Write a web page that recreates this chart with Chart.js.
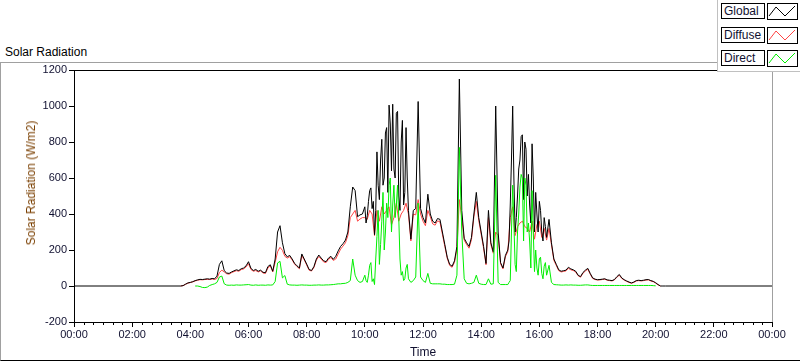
<!DOCTYPE html>
<html>
<head>
<meta charset="utf-8">
<script src="https://cdn.jsdelivr.net/npm/chart.js@4.4.1/dist/chart.umd.min.js"></script>
<style>
  body { margin: 0; background: #fff; font-family: 'Liberation Sans', Arial, sans-serif; }
  #wrap { position: relative; width: 800px; height: 361px; overflow: hidden; }
  #frame { position: absolute; left: 0; top: 62px; width: 800px; height: 297px;
           border-top: 1px solid #a0a0a0; border-left: 1px solid #a0a0a0; border-bottom: 1px solid #000; box-sizing: content-box; }
  #caption { position: absolute; left: 5px; top: 45px; font-size: 12px; color: #000; }
  #ytitle { position: absolute; left: 31px; top: 183px; font-size: 12px; color: #7a3f00;
            transform: translate(-50%, -50%) rotate(-90deg); white-space: nowrap; }
  canvas { position: absolute; left: 0; top: 0; }
  #legend { position: absolute; left: 717px; top: 0; width: 83px; height: 71px; background: #fff;
            border-left: 1px solid #c0c0c0; border-bottom: 1px solid #c0c0c0; }
  .name { position: absolute; left: 3px; width: 40px; height: 14px; border: 1px solid #000;
          font-size: 12px; line-height: 14px; padding-left: 2px; box-sizing: content-box; color: #101030; }
  .sw { position: absolute; left: 49px; }
</style>
</head>
<body>
<div id="wrap">
  <div id="frame"></div>
  <div id="caption">Solar Radiation</div>
  <canvas id="solar" width="800" height="361"></canvas>
  <div id="ytitle">Solar Radiation (W/m2)</div>
  <div id="legend">
    <div class="name" style="top:3px">Global</div>
    <svg class="sw" style="top:3px" width="31" height="17"><rect x="0.5" y="0.5" width="30" height="16" fill="#fff" stroke="#000"/><polyline points="2,13 9,4 18,13 28,3" fill="none" stroke="#000"/></svg>
    <div class="name" style="top:27px">Diffuse</div>
    <svg class="sw" style="top:27px" width="31" height="17"><rect x="0.5" y="0.5" width="30" height="16" fill="#fff" stroke="#000"/><polyline points="2,13 9,4 18,13 28,3" fill="none" stroke="#ff4444"/></svg>
    <div class="name" style="top:50px">Direct</div>
    <svg class="sw" style="top:50px" width="31" height="17"><rect x="0.5" y="0.5" width="30" height="16" fill="#fff" stroke="#000"/><polyline points="2,13 9,4 18,13 28,3" fill="none" stroke="#00ee00"/></svg>
  </div>
</div>
<script>
// samples every 5 minutes from 03:40 to 20:20 (minutes of day)
const times = [];
for (let t = 220; t <= 1220; t += 5) times.push(t);

// W/m2, one row per hour
const globalVals = [
  0, 2, 10, 17,
  20, 24, 30, 34, 37, 36, 38, 40, 38, 42, 40, 55,
  120, 140, 85, 72, 70, 78, 84, 90, 86, 96, 100, 112,
  135, 98, 86, 92, 82, 88, 76, 74, 108, 118, 82, 150,
  300, 335, 240, 180, 162, 170, 150, 126, 112, 100, 178, 150,
  122, 92, 86, 108, 150, 172, 155, 140, 135, 155, 165, 148,
  165, 195, 220, 235, 255, 300, 440, 550, 530, 385, 395, 400,
  440, 390, 530, 430, 285, 745, 480, 815, 600, 880, 1005, 640,
  650, 960, 500, 800, 450, 880, 420, 260, 420, 430, 1025, 430,
  380, 350, 510, 400, 360, 350, 375, 370, 300, 230, 160, 120,
  110, 140, 220, 1150, 420, 265, 240, 220, 270, 400, 520, 380,
  300, 220, 125, 420, 240, 190, 1000, 300, 130, 100, 170, 200,
  450, 1000, 300, 500, 700, 840, 800, 500, 450, 790, 300, 400,
  470, 300, 380, 270, 370, 240, 150, 120, 90, 82, 85, 88,
  104, 95, 90, 82, 60, 52, 75, 88, 98, 70, 45, 38,
  35, 36, 38, 40, 34, 32, 30, 36, 52, 64, 45, 35,
  28, 22, 17, 22, 30, 32, 30, 32, 35, 36, 30, 26,
  18, 8, 0, 0, 0
];

const diffuseVals = [
  0, 2, 9, 16,
  19, 23, 28, 32, 35, 34, 36, 37, 36, 39, 36, 42,
  75, 88, 78, 68, 66, 74, 80, 85, 82, 91, 95, 106,
  124, 92, 82, 86, 78, 84, 72, 70, 100, 112, 78, 132,
  190, 215, 198, 165, 155, 163, 145, 122, 108, 96, 168, 145,
  117, 88, 83, 103, 144, 164, 149, 134, 130, 148, 158, 142,
  150, 178, 205, 222, 240, 280, 380, 400, 420, 360, 372, 380,
  380, 370, 420, 400, 280, 420, 360, 440, 400, 420, 440, 340,
  380, 460, 360, 400, 420, 460, 400, 250, 400, 395, 480, 400,
  360, 335, 420, 385, 345, 338, 362, 356, 288, 220, 154, 114,
  104, 132, 205, 480, 380, 255, 230, 210, 258, 385, 470, 365,
  288, 210, 118, 380, 230, 182, 300, 280, 124, 95, 162, 192,
  380, 440, 280, 330, 350, 360, 330, 320, 300, 360, 260, 340,
  360, 270, 320, 255, 320, 230, 142, 114, 85, 78, 81, 84,
  98, 90, 86, 78, 57, 49, 71, 83, 93, 66, 42, 36,
  33, 34, 36, 38, 32, 30, 28, 34, 49, 60, 42, 33,
  26, 20, 15, 20, 28, 30, 28, 30, 33, 34, 28, 24,
  16, 6, 0, null, null
];

const directVals = [
  null, null, null, null,
  null, null, 0, 0, -3, -8, -9, -6, 3, 8, 12, 20,
  50, 55, 12, 5, 4, 5, 4, 6, 5, 5, 6, 7,
  8, 5, 4, 6, 4, 5, 5, 4, 6, 5, 6, 25,
  128, 137, 45, 58, 10, 6, 5, 5, 4, 5, 6, 5,
  5, 4, 4, 5, 5, 6, 5, 5, 6, 6, 7, 8,
  10, 12, 12, 14, 15, 20, 30, 150, 60, 30, 20, 25,
  60, 20, 115, 25, 8, 275, 120, 360, 200, 460, 560, 300,
  560, 450, 380, 60, 30, 100, 40, 20, 30, 50, 460, 50,
  30, 20, 70, 15, 12, 12, 12, 12, 10, 10, 8, 8,
  8, 10, 60, 770, 300, 40, 15, 12, 15, 20, 60, 15,
  10, 8, 8, 40, 10, 12, 615, 20, 8, 8, 8, 8,
  30, 560, 120, 300, 550, 600, 600, 300, 250, 530, 80, 100,
  150, 70, 110, 60, 115, 20, 8, 7, 6, 5, 5, 6,
  5, 6, 5, 5, 4, 4, 5, 6, 6, 4, 3, 3,
  3, 3, 3, 3, 3, 3, 3, 3, 3, 3, 3, 3,
  3, 3, 3, 3, 3, 3, 3, 3, 3, 3, 3, 2,
  1, null, null, null, null
];

// extra in-between samples for the two cloudy, spiky stretches
const extraTimes = [
  602.5, 607.5, 612.5, 617.5, 622.5, 627.5, 632.5, 637.5, 642.5,
  647.5, 652.5, 657.5, 662.5, 667.5, 672.5, 677.5, 682.5, 687.5,
  897.5, 902.5, 907.5, 912.5, 917.5, 922.5, 927.5, 932.5,
  937.5, 942.5, 947.5, 952.5, 957.5, 962.5, 967.5, 972.5
];
const globalExtra = [
  350, 470, 545, 470, 420, 560, 700, 560, 850,
  520, 900, 1010, 600, 970, 420, 920, 520, 600,
  250, 700, 600, 380, 650, 830, 480, 760,
  620, 350, 600, 520, 300, 420, 250, 330
];
const directExtra = [
  30, 60, 130, 40, 150, 420, 230, 520, 300,
  380, 600, 450, 380, 560, 150, 80, 40, 120,
  20, 300, 350, 80, 400, 620, 250, 560,
  350, 100, 300, 200, 60, 160, 40, 130
];

const yTicks = [-200, 0, 200, 400, 600, 800, 1000, 1200];

function series(vals, extraVals) {
  const pts = times.map((t, i) => ({ x: t, y: vals[i] }));
  if (extraVals) {
    extraTimes.forEach((t, i) => pts.push({ x: t, y: extraVals[i] }));
    pts.sort((a, b) => a.x - b.x);
  }
  return pts;
}

const tickColor = '#101030';
Chart.defaults.font.family = "'Liberation Sans', Arial, sans-serif";

// top/right plot border and the 20-minute minor ticks
const plotFrame = {
  id: 'plotFrame',
  afterDraw(chart) {
    const { ctx, chartArea: a } = chart;
    const x = chart.scales.x;
    ctx.save();
    ctx.lineWidth = 1;
    ctx.strokeStyle = '#000';
    ctx.beginPath();
    ctx.moveTo(a.left, a.top + 0.5);
    ctx.lineTo(a.right, a.top + 0.5);
    ctx.stroke();
    ctx.strokeStyle = '#a0a0a0';
    ctx.beginPath();
    ctx.moveTo(a.right + 0.5, a.top);
    ctx.lineTo(a.right + 0.5, a.bottom);
    ctx.stroke();
    ctx.strokeStyle = '#000';
    ctx.beginPath();
    for (let m = 20; m < 1440; m += 20) {
      if (m % 120 === 0) continue;
      const px = Math.round(x.getPixelForValue(m)) + 0.5;
      ctx.moveTo(px, a.bottom);
      ctx.lineTo(px, a.bottom + 3);
    }
    ctx.stroke();
    ctx.restore();
  }
};

new Chart(document.querySelector('#solar'), {
  type: 'line',
  data: {
    datasets: [
      {
        label: 'Global',
        data: [{ x: 0, y: 0 }, ...series(globalVals, globalExtra), { x: 1440, y: 0 }],
        borderColor: '#000000',
        order: 2
      },
      {
        label: 'Diffuse',
        data: series(diffuseVals),
        borderColor: '#ff4444',
        order: 3
      },
      {
        label: 'Direct',
        data: series(directVals, directExtra),
        borderColor: '#00ee00',
        order: 1
      }
    ]
  },
  options: {
    responsive: false,
    animation: false,
    layout: { padding: { left: 0, top: 70, right: 28, bottom: 0 } },
    elements: {
      point: { radius: 0 },
      line: { borderWidth: 1, tension: 0 }
    },
    plugins: {
      legend: { display: false },
      tooltip: { enabled: false }
    },
    scales: {
      x: {
        type: 'linear',
        min: 0,
        max: 1440,
        afterFit: (s) => { s.height = 39; },
        ticks: {
          stepSize: 120,
          autoSkip: false,
          maxRotation: 0,
          padding: 1,
          color: tickColor,
          font: { size: 11 },
          callback: (v) => String(Math.floor(v / 60) % 24).padStart(2, '0') + ':00'
        },
        grid: { drawOnChartArea: false, tickLength: 5, color: '#000' },
        border: { color: '#000' },
        title: {
          display: true,
          text: 'Time',
          color: tickColor,
          font: { size: 12 },
          padding: { top: 0, bottom: 1 }
        }
      },
      y: {
        min: -200,
        max: 1200,
        afterFit: (s) => { s.width = 74; },
        afterBuildTicks: (s) => { s.ticks = yTicks.map((v) => ({ value: v })); },
        ticks: {
          padding: 2,
          color: tickColor,
          font: { size: 11 },
          callback: (v) => String(v)
        },
        grid: { drawOnChartArea: false, tickLength: 5, color: '#000' },
        border: { color: '#000' }
      }
    }
  },
  plugins: [plotFrame]
});
</script>
</body>
</html>
